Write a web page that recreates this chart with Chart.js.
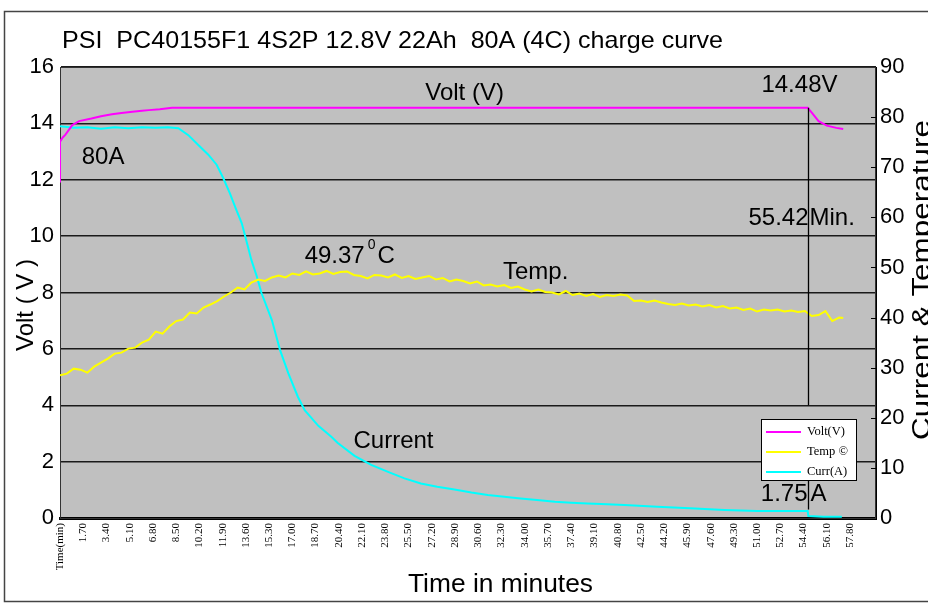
<!DOCTYPE html>
<html>
<head>
<meta charset="utf-8">
<script src="https://cdn.jsdelivr.net/npm/chart.js@4"></script>
<style>
body { margin: 0; background: #fff; }
#wrap { width: 928px; height: 603px; }
</style>
</head>
<body>
<div id="wrap"><canvas id="myChart" width="928" height="603"></canvas></div>
<script>
// x axis ticks (minutes) and their printed labels
const xTickMin = [0, 1.7, 3.4, 5.1, 6.8, 8.5, 10.2, 11.9, 13.6, 15.3, 17.0, 18.7, 20.4, 22.1, 23.8, 25.5, 27.2, 28.9, 30.6, 32.3, 34.0, 35.7, 37.4, 39.1, 40.8, 42.5, 44.2, 45.9, 47.6, 49.3, 51.0, 52.7, 54.4, 56.1, 57.8]
const xTickLabels = ['Time(min)', '1.70', '3.40', '5.10', '6.80', '8.50', '10.20', '11.90', '13.60', '15.30', '17.00', '18.70', '20.40', '22.10', '23.80', '25.50', '27.20', '28.90', '30.60', '32.30', '34.00', '35.70', '37.40', '39.10', '40.80', '42.50', '44.20', '45.90', '47.60', '49.30', '51.00', '52.70', '54.40', '56.10', '57.80']

// Volt (V), left axis
const voltMin = [0, 0, 0.2, 0.4, 0.9, 1.4, 2.3, 3.0, 3.8, 4.5, 5.3, 6.0, 6.5, 7.3, 8.2, 54.7, 55.0, 55.5, 56.1, 56.8, 57.3]
const volt = [11.9, 13.35, 13.5, 13.6, 13.94, 14.08, 14.17, 14.25, 14.32, 14.37, 14.41, 14.45, 14.47, 14.5, 14.55, 14.55, 14.38, 14.08, 13.92, 13.84, 13.8]

// Current (A), right axis
const currMin = [0, 1, 2, 3, 4, 5, 6, 7, 7.9, 8.66, 9.39, 10.1, 10.85, 11.46, 11.95, 12.43, 12.9, 13.3, 13.65, 14.0, 14.4, 14.74, 15.5, 16.1, 16.7, 17.4, 17.9, 18.9, 19.85, 20.3, 21.55, 22.77, 24.0, 25.2, 26.4, 27.6, 28.86, 30.1, 31.3, 32.5, 33.7, 34.9, 36.2, 37.4, 38.6, 39.6, 41.3, 43.7, 46.1, 48.6, 51.0, 53.4, 54.7, 54.75, 55.85, 57.2]
const curr = [78.2, 77.9, 78.0, 77.7, 78.0, 77.8, 78.0, 77.9, 78.0, 77.8, 76.4, 74.5, 72.5, 70.5, 67.8, 64.8, 61.5, 58.8, 55.2, 51.5, 48.2, 44.9, 39.5, 33.5, 28.9, 24.2, 21.5, 18.4, 16.2, 15.0, 12.4, 10.6, 9.2, 7.9, 6.9, 6.25, 5.7, 5.1, 4.6, 4.26, 3.9, 3.6, 3.26, 3.05, 2.9, 2.8, 2.6, 2.26, 1.93, 1.6, 1.4, 1.4, 1.4, 0.4, 0.26, 0.26]

// Temperature (C), right axis
const tempMin = [0, 0.5, 1, 1.5, 2, 2.5, 3, 3.5, 4, 4.5, 5, 5.5, 6, 6.5, 7, 7.5, 8, 8.5, 9, 9.5,
  10, 10.5, 11, 11.5, 12, 12.5, 13, 13.5, 14, 14.5, 15, 15.5, 16, 16.5, 17, 17.5, 18, 18.5, 19, 19.5,
  20, 20.5, 21, 21.5, 22, 22.5, 23, 23.5, 24, 24.5, 25, 25.5, 26, 26.5, 27, 27.5, 28, 28.5, 29, 29.5,
  30, 30.5, 31, 31.5, 32, 32.5, 33, 33.5, 34, 34.5, 35, 35.5, 36, 36.5, 37, 37.5, 38, 38.5, 39, 39.5,
  40, 40.5, 41, 41.5, 42, 42.5, 43, 43.5, 44, 44.5, 45, 45.5, 46, 46.5, 47, 47.5, 48, 48.5, 49, 49.5,
  50, 50.5, 51, 51.5, 52, 52.5, 53, 53.5, 54, 54.5, 55, 55.5, 56, 56.5, 57, 57.3]
const temp = [28.5, 28.8, 29.8, 29.6, 29.0, 30.2, 31.0, 31.8, 32.8, 33.0, 33.8, 34.0, 35.0, 35.6, 37.2, 36.8, 38.2, 39.3, 39.6, 41.0,
  40.8, 42.0, 42.6, 43.3, 44.2, 45.0, 46.0, 45.6, 47.0, 47.6, 47.3, 48.0, 48.4, 48.0, 48.8, 48.5, 49.2, 48.6, 48.8, 49.3,
  48.7, 49.1, 49.2, 48.5, 48.3, 47.8, 48.5, 48.4, 48.0, 48.6, 47.9, 48.3, 47.7, 48.0, 48.3, 47.6, 47.9, 47.2, 47.6, 47.3,
  46.8, 47.2, 46.4, 46.6, 46.2, 46.5, 45.9, 46.2, 45.6, 45.2, 45.6, 45.1, 45.0, 44.6, 45.3, 44.5, 44.8, 44.3, 44.7, 44.1,
  44.5, 44.3, 44.6, 44.4, 43.3, 43.4, 43.1, 43.4, 43.0, 42.7, 42.5, 42.8, 42.4, 42.6, 42.2, 42.5, 42.0, 42.3, 41.8, 42.0,
  41.5, 41.8, 41.2, 41.6, 41.4, 41.6, 41.2, 41.4, 41.1, 41.3, 40.3, 40.5, 41.3, 39.3, 40.0, 39.9]

// end of constant-voltage phase (minutes) and the level the marker line drops to
const cutoffMin = 54.75
const cutoffVolt = 14.55
const markerBottomVolt = 4

function pairs(xs, ys) {
    return xs.map((x, i) => ({ x: x, y: ys[i] }))
}

const FONT = '"Liberation Sans", Arial, sans-serif'

// draws text squeezed/stretched to a given width
function fitText(ctx, text, x, y, width) {
    const w = ctx.measureText(text).width
    ctx.save()
    ctx.translate(x, y)
    ctx.scale(width / w, 1)
    ctx.fillText(text, 0, 0)
    ctx.restore()
}

const plotBg = {
    id: 'plotBg',
    beforeDraw(chart) {
        const { ctx, chartArea: a } = chart
        ctx.save()
        ctx.fillStyle = '#ffffff'
        ctx.fillRect(0, 0, chart.width, chart.height)
        ctx.fillStyle = '#c0c0c0'
        ctx.fillRect(a.left, a.top, a.right - a.left, a.bottom - a.top)
        ctx.restore()
    },
    beforeDatasetsDraw(chart) {
        const { ctx, chartArea: a } = chart
        const y1 = chart.scales.y1
        ctx.save()
        ctx.strokeStyle = '#333'
        ctx.lineWidth = 1
        ctx.strokeRect(a.left + 0.5, a.top + 0.5, a.right - a.left - 1, a.bottom - a.top)
        // inward tick marks on the right axis
        ctx.strokeStyle = '#000'
        for (let v = 10; v < 90; v += 10) {
            const py = Math.round(y1.getPixelForValue(v)) + 0.5
            ctx.beginPath()
            ctx.moveTo(a.right - 5, py)
            ctx.lineTo(a.right, py)
            ctx.stroke()
        }
        ctx.restore()
    }
}

const notes = {
    id: 'notes',
    afterDatasetsDraw(chart) {
        const { ctx } = chart
        const x = chart.scales.x, y = chart.scales.y
        ctx.save()

        // marker line at end of CV phase
        const mx = Math.round(x.getPixelForValue(cutoffMin)) + 0.5
        ctx.strokeStyle = '#000'
        ctx.lineWidth = 1.3
        ctx.beginPath()
        ctx.moveTo(mx, y.getPixelForValue(cutoffVolt))
        ctx.lineTo(mx, y.getPixelForValue(markerBottomVolt))
        ctx.stroke()

        // text notes
        ctx.fillStyle = '#000'
        ctx.textBaseline = 'middle'
        ctx.font = '24px ' + FONT
        ctx.textAlign = 'center'
        ctx.fillText('Volt (V)', x.getPixelForValue(29.6), y.getPixelForValue(15.05))
        ctx.fillText('14.48V', x.getPixelForValue(54.1), y.getPixelForValue(15.36))
        ctx.fillText('80A', x.getPixelForValue(3.15), y.getPixelForValue(12.8))
        ctx.fillText('Temp.', x.getPixelForValue(34.8), y.getPixelForValue(8.73))
        ctx.fillText('Current', x.getPixelForValue(24.4), y.getPixelForValue(2.73))
        ctx.textAlign = 'right'
        ctx.fillText('55.42', mx, y.getPixelForValue(10.64))
        ctx.fillText('1.75', mx - 1, y.getPixelForValue(0.85))
        ctx.textAlign = 'left'
        ctx.fillText('Min.', mx + 1, y.getPixelForValue(10.64))
        ctx.fillText('A', mx + 2, y.getPixelForValue(0.85))
        // the bar between 1.75 and A
        ctx.beginPath()
        ctx.moveTo(mx, y.getPixelForValue(1.45))
        ctx.lineTo(mx, y.getPixelForValue(0.3))
        ctx.stroke()

        let tx = x.getPixelForValue(17.9)
        const ty = y.getPixelForValue(9.29)
        ctx.fillText('49.37', tx, ty)
        tx += ctx.measureText('49.37').width + 3
        ctx.font = '14px ' + FONT
        ctx.fillText('0', tx, ty - 11)
        tx += ctx.measureText('0').width + 2
        ctx.font = '24px ' + FONT
        ctx.fillText('C', tx, ty)

        // legend box
        const lx = 761, ly = 419, lw = 95, lh = 61
        ctx.fillStyle = '#fff'
        ctx.fillRect(lx, ly, lw, lh)
        ctx.strokeStyle = '#000'
        ctx.lineWidth = 1
        ctx.strokeRect(lx + 0.5, ly + 0.5, lw, lh)
        const names = ['Volt(V)', 'Temp \u00a9', 'Curr(A)']
        ctx.font = '12.5px "Liberation Serif", serif'
        chart.data.datasets.forEach((ds, i) => {
            const ry = ly + 13 + i * 20
            ctx.strokeStyle = ds.borderColor
            ctx.lineWidth = 2
            ctx.beginPath()
            ctx.moveTo(lx + 5, ry)
            ctx.lineTo(lx + 40, ry)
            ctx.stroke()
            ctx.fillStyle = '#000'
            ctx.fillText(names[i], lx + 46, ry)
        })
        ctx.restore()
    },
    afterDraw(chart) {
        const { ctx } = chart
        ctx.save()
        // outer frame
        ctx.strokeStyle = '#444'
        ctx.lineWidth = 1.5
        ctx.strokeRect(4.5, 11.5, 960, 590)

        ctx.fillStyle = '#000'
        ctx.textBaseline = 'middle'
        ctx.textAlign = 'left'
        ctx.font = '24px ' + FONT
        fitText(ctx, 'PSI  PC40155F1 4S2P 12.8V 22Ah  80A (4C) charge curve', 62, 41, 661)

        ctx.font = '25px ' + FONT
        fitText(ctx, 'Time in minutes', 408, 585, 185)

        ctx.textAlign = 'center'
        ctx.font = '24px ' + FONT
        ctx.translate(26, 305)
        ctx.rotate(-Math.PI / 2)
        ctx.fillText('Volt ( V )', 0, 0)
        ctx.restore()

        // right axis title, partly cut by the page edge
        ctx.save()
        ctx.fillStyle = '#000'
        ctx.textBaseline = 'alphabetic'
        ctx.textAlign = 'left'
        ctx.font = '26px ' + FONT
        ctx.translate(930, 440)
        ctx.rotate(-Math.PI / 2)
        fitText(ctx, 'Current & Temperature', 0, 0, 320)
        ctx.restore()
    }
}

const ctx = document.getElementById('myChart').getContext('2d')
const myChart = new Chart(ctx, {
    type: 'line',
    data: {
        datasets: [{
            label: 'Volt(V)',
            data: pairs(voltMin, volt),
            borderColor: '#ff00ff',
            yAxisID: 'y'
        }, {
            label: 'Temp',
            data: pairs(tempMin, temp),
            borderColor: '#ffff00',
            yAxisID: 'y1'
        }, {
            label: 'Curr(A)',
            data: pairs(currMin, curr),
            borderColor: '#00ffff',
            yAxisID: 'y1'
        }]
    },
    options: {
        responsive: false,
        animation: false,
        layout: { padding: { top: 67, left: 0, right: 0, bottom: 0 } },
        elements: {
            point: { radius: 0 },
            line: { borderWidth: 2, tension: 0 }
        },
        plugins: {
            legend: { display: false },
            tooltip: { enabled: false }
        },
        scales: {
            x: {
                type: 'linear',
                min: 0,
                max: 59.7,
                afterBuildTicks: s => { s.ticks = xTickMin.map(v => ({ value: v })) },
                afterFit: s => { s.height = 85 },
                ticks: {
                    autoSkip: false,
                    minRotation: 90,
                    maxRotation: 90,
                    padding: 5,
                    color: '#000',
                    font: { family: '"Liberation Serif", serif', size: 11 },
                    callback: (v, i) => xTickLabels[i]
                },
                grid: { drawOnChartArea: false, drawTicks: false },
                border: { display: true, color: '#000', width: 3 }
            },
            y: {
                position: 'left',
                min: 0,
                max: 16,
                afterFit: s => { s.width = 60 },
                ticks: {
                    stepSize: 2,
                    padding: 6,
                    color: '#000',
                    font: { family: FONT, size: 22 }
                },
                grid: { color: '#1a1a1a', lineWidth: 1.5, drawTicks: false },
                border: { color: '#000', width: 1 }
            },
            y1: {
                position: 'right',
                min: 0,
                max: 90,
                afterFit: s => { s.width = 52 },
                ticks: {
                    stepSize: 10,
                    padding: 4,
                    color: '#000',
                    font: { family: FONT, size: 22 }
                },
                grid: { drawOnChartArea: false, drawTicks: false },
                border: { color: '#000', width: 1 }
            }
        }
    },
    plugins: [plotBg, notes]
})
</script>
</body>
</html>
